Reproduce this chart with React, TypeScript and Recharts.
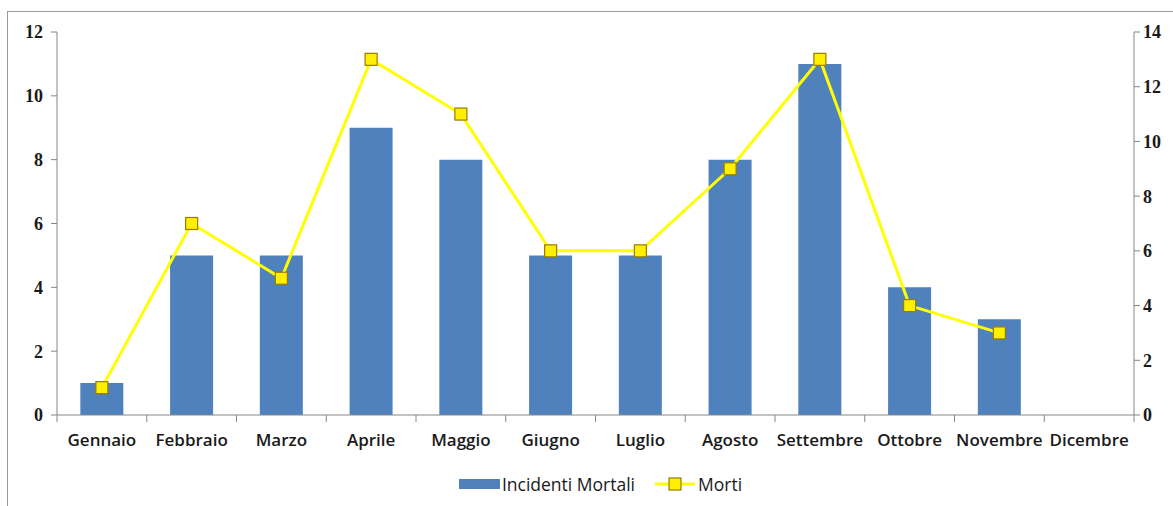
import React from 'react';
import { ComposedChart, Bar, Line, XAxis, YAxis, Legend } from 'recharts';

const months = ['Gennaio', 'Febbraio', 'Marzo', 'Aprile', 'Maggio', 'Giugno', 'Luglio', 'Agosto', 'Settembre', 'Ottobre', 'Novembre', 'Dicembre'];
const incidenti: (number | null)[] = [1, 5, 5, 9, 8, 5, 5, 8, 11, 4, 3, null];
const morti: (number | null)[] = [1, 7, 5, 13, 11, 6, 6, 9, 13, 4, 3, null];
const leftTicks = [0, 2, 4, 6, 8, 10, 12];
const rightTicks = [0, 2, 4, 6, 8, 10, 12, 14];

const data = months.map((m, i) => ({ month: m, incidenti: incidenti[i], morti: morti[i] }));

const BAR = '#4F81BD';
const LINE = '#FFFF00';
const AXIS = '#868686';
const numFont = { fontFamily: 'Liberation Serif, serif', fontSize: 18, fontWeight: 'bold', fill: '#1a1a1a' };

const CatTick = (props: any) => {
  const { x, y, payload, width, index } = props;
  const band = width / months.length;
  const left = x - band / 2;
  const right = x + band / 2;
  const axisY = y - 19;
  return (
    <g>
      <line x1={left} y1={axisY} x2={left} y2={axisY + 7} stroke={AXIS} />
      {index === months.length - 1 && <line x1={right} y1={axisY} x2={right} y2={axisY + 7} stroke={AXIS} />}
      <text x={x} y={y} dy="0.71em" textAnchor="middle" fontFamily="Open Sans, sans-serif" fontSize={17} fontWeight={600} fill="#1a1a1a">
        {payload.value}
      </text>
    </g>
  );
};

const SquareDot = (props: any) => {
  const { cx, cy, value } = props;
  if (value == null || cx == null || cy == null) return null;
  return <rect x={cx - 6} y={cy - 6} width={12} height={12} fill="#FFF000" stroke="#9C7A00" strokeWidth={1.2} />;
};

const LegendContent = () => (
  <div style={{ display: 'flex', justifyContent: 'center', alignItems: 'center', fontFamily: 'Open Sans, sans-serif', fontSize: 17.5, color: '#1a1a1a', height: 20, paddingLeft: 20 }}>
    <svg width={42} height={12} style={{ marginRight: 1 }}>
      <rect x={0} y={1} width={41} height={10} fill={BAR} />
    </svg>
    <span style={{ marginRight: 20 }}>Incidenti Mortali</span>
    <svg width={40} height={14} style={{ marginRight: 3 }}>
      <line x1={0} y1={7} x2={40} y2={7} stroke={LINE} strokeWidth={3} />
      <rect x={14} y={1} width={12} height={12} fill="#FFF000" stroke="#9C7A00" strokeWidth={1.2} />
    </svg>
    <span>Morti</span>
  </div>
);

export default function App() {
  return (
    <div style={{ position: 'absolute', left: 7, top: 11, width: 1166, height: 495, borderLeft: '1px solid #9a9a9a', borderTop: '1px solid #9a9a9a', background: '#fff' }}>
      <ComposedChart width={1165} height={494} data={data} margin={{ top: 20, right: 0, left: 0, bottom: 31 }} barCategoryGap="26%">
        <XAxis dataKey="month" tick={<CatTick />} tickLine={false} axisLine={{ stroke: AXIS }} interval={0} height={40} tickMargin={13} />
        <YAxis yAxisId="left" domain={[0, 12]} ticks={leftTicks} tick={numFont} tickLine={{ stroke: AXIS }} tickSize={6} tickMargin={8} axisLine={{ stroke: AXIS }} width={49} interval={0} />
        <YAxis yAxisId="right" orientation="right" domain={[0, 14]} ticks={rightTicks} tick={numFont} tickLine={{ stroke: AXIS }} tickSize={6} tickMargin={3} axisLine={{ stroke: AXIS }} width={39} interval={0} />
        <Bar yAxisId="left" dataKey="incidenti" fill={BAR} isAnimationActive={false} />
        <Line yAxisId="right" dataKey="morti" stroke={LINE} strokeWidth={3} dot={<SquareDot />} activeDot={false} isAnimationActive={false} type="linear" />
        <Legend verticalAlign="bottom" content={<LegendContent />} wrapperStyle={{ bottom: 12 }} />
      </ComposedChart>
    </div>
  );
}
